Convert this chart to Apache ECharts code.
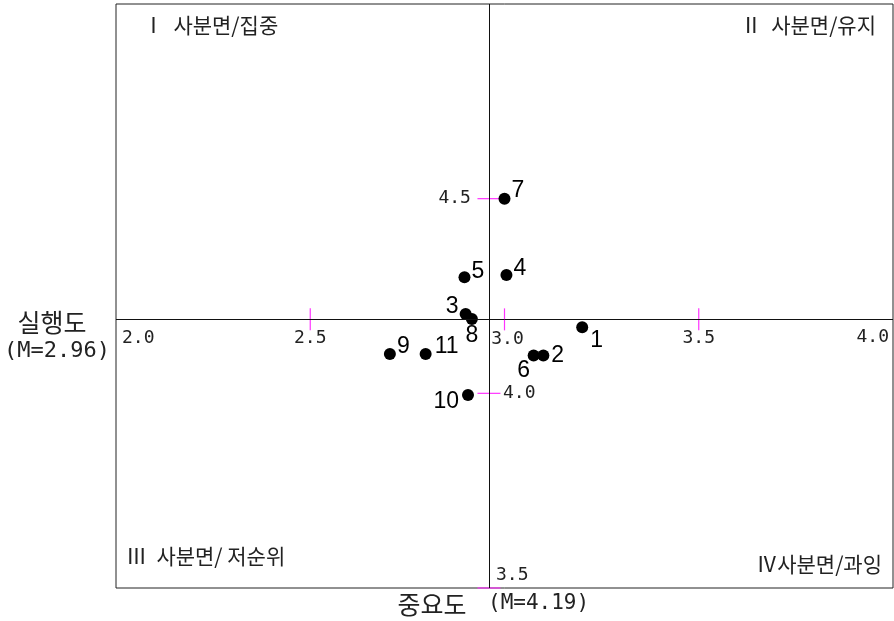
<!DOCTYPE html>
<html>
<head>
<meta charset="utf-8">
<script src="https://cdn.jsdelivr.net/npm/echarts@6/dist/echarts.min.js"></script>
<style>html,body{margin:0;padding:0;background:#fff;}#c{width:894px;height:621px;}</style>
</head>
<body>
<div id="c"></div>
<script>
// ---- data ----
const pointIds = ['1', '2', '3', '4', '5', '6', '7', '8', '9', '10', '11'];
const performance = [3.20, 3.10, 2.90, 3.005, 2.897, 3.075, 3.00, 2.916, 2.705, 2.906, 2.797];
const importance = [4.17, 4.097, 4.204, 4.304, 4.298, 4.097, 4.50, 4.191, 4.101, 3.996, 4.101];
const meanPerformance = 2.96;
const meanImportance = 4.19;
const xTicks = [2.0, 2.5, 3.0, 3.5, 4.0];
const yTicks = [3.5, 4.0, 4.5];
const xTickMarks = [2.5, 3.0, 3.5];
const yTickMarks = [3.5, 4.0, 4.5];
const quadrantNames = ['Ⅰ  사분면/집중', 'Ⅱ  사분면/유지', 'Ⅲ  사분면/ 저순위', 'Ⅳ사분면/과잉'];
const xTitle = ['실행도', '(M=2.96)'];
const yTitle = ['중요도', '(M=4.19)'];

// ---- styles ----
const labelPlacement = {
  '1': {position: 'right', distance: 2, offset: [0, 14]},
  '2': {position: 'right', distance: 2, offset: [0, 0]},
  '3': {position: 'left', distance: 1, offset: [0, -7]},
  '4': {position: 'right', distance: 1, offset: [0, -6]},
  '5': {position: 'right', distance: 1, offset: [0, -6]},
  '6': {position: 'bottom', distance: -2, offset: [-10, 0]},
  '7': {position: 'right', distance: 1, offset: [0, -8]},
  '8': {position: 'bottom', distance: -1, offset: [0, 0]},
  '9': {position: 'right', distance: 1, offset: [0, -7]},
  '10': {position: 'left', distance: 3, offset: [0, 7]},
  '11': {position: 'right', distance: 3, offset: [0, -7]}
};
const tickFont = {fontFamily: 'DejaVu Sans Mono', fontSize: 18, color: '#222'};
const MAGENTA = '#ff33ff';

const chart = echarts.init(document.getElementById('c'), null, {renderer: 'canvas'});

const pointData = pointIds.map((id, i) => ({
  name: id,
  value: [performance[i], importance[i]],
  label: labelPlacement[id]
}));

const xLabelData = xTicks.map((v, i) => {
  let align = 'center', offset = [0, 19];
  if (i === 0) { align = 'left'; offset = [6, 19]; }
  if (i === 2) { offset = [3, 20]; }
  if (i === xTicks.length - 1) { align = 'right'; offset = [-4, 18]; }
  return {value: [v, meanImportance], label: {align: align, offset: offset}};
});
const yLabelData = yTicks.map(v => {
  if (v === 4.5) return {value: [meanPerformance, v], label: {align: 'right', offset: [-18, 0]}};
  if (v === 4.0) return {value: [meanPerformance, v], label: {align: 'left', offset: [14, 0]}};
  return {value: [meanPerformance, v], label: {align: 'left', offset: [7, -13]}};
});

const cjk = 'Noto Sans CJK KR';
const mono = 'DejaVu Sans Mono';

chart.setOption({
  animation: false,
  backgroundColor: '#fff',
  grid: {left: 116, top: 4, width: 777, height: 584, show: true, borderColor: '#222', borderWidth: 1, backgroundColor: 'transparent'},
  xAxis: {type: 'value', min: 2, max: 4, axisLine: {show: false}, axisTick: {show: false}, axisLabel: {show: false}, splitLine: {show: false}},
  yAxis: {type: 'value', min: 3.5, max: 5, axisLine: {show: false}, axisTick: {show: false}, axisLabel: {show: false}, splitLine: {show: false}},
  series: [
    {
      type: 'scatter', name: 'meanLines', data: [], silent: true, clip: false,
      markLine: {
        silent: true, symbol: 'none', animation: false,
        label: {show: false},
        lineStyle: {color: '#111', width: 1, type: 'solid', opacity: 1},
        emphasis: {disabled: true},
        data: [{xAxis: meanPerformance}, {yAxis: meanImportance}]
      }
    },
    {
      type: 'scatter', name: 'xTickMarks', silent: true, clip: false,
      symbol: 'rect', symbolSize: [1.2, 22],
      itemStyle: {color: MAGENTA, opacity: 1},
      data: xTickMarks.map(v => [v, meanImportance])
    },
    {
      type: 'scatter', name: 'yTickMarks', silent: true, clip: false,
      symbol: 'rect', symbolSize: [23, 1.2],
      itemStyle: {color: MAGENTA, opacity: 1},
      data: yTickMarks.map(v => [meanPerformance, v])
    },
    {
      type: 'scatter', name: 'xTickLabels', silent: true, clip: false,
      symbolSize: 0, itemStyle: {opacity: 1},
      label: Object.assign({show: true, position: 'inside', verticalAlign: 'middle', formatter: p => p.value[0].toFixed(1)}, tickFont),
      data: xLabelData
    },
    {
      type: 'scatter', name: 'yTickLabels', silent: true, clip: false,
      symbolSize: 0, itemStyle: {opacity: 1},
      label: Object.assign({show: true, position: 'inside', verticalAlign: 'middle', formatter: p => p.value[1].toFixed(1)}, tickFont),
      data: yLabelData
    },
    {
      type: 'scatter', name: 'points', silent: true, clip: false,
      symbol: 'circle', symbolSize: 12,
      itemStyle: {color: '#000', opacity: 1},
      label: {show: true, formatter: '{b}', fontFamily: 'Liberation Sans', fontSize: 23, color: '#000'},
      data: pointData
    }
  ],
  graphic: [
    {type: 'text', x: 143, y: 25, style: {text: quadrantNames[0], font: '21px "' + cjk + '"', fill: '#222', align: 'left', verticalAlign: 'middle', textAlign: 'left', textVerticalAlign: 'middle'}},
    {type: 'text', x: 876, y: 25, style: {text: quadrantNames[1], font: '21px "' + cjk + '"', fill: '#222', align: 'right', verticalAlign: 'middle', textAlign: 'right', textVerticalAlign: 'middle'}},
    {type: 'text', x: 126, y: 556, style: {text: quadrantNames[2], font: '21px "' + cjk + '"', fill: '#222', align: 'left', verticalAlign: 'middle', textAlign: 'left', textVerticalAlign: 'middle'}},
    {type: 'text', x: 882, y: 564, style: {text: quadrantNames[3], font: '21px "' + cjk + '"', fill: '#222', align: 'right', verticalAlign: 'middle', textAlign: 'right', textVerticalAlign: 'middle'}},
    {type: 'text', x: 52, y: 322, style: {text: xTitle[0], font: '25px "' + cjk + '"', fill: '#222', align: 'center', verticalAlign: 'middle', textAlign: 'center', textVerticalAlign: 'middle'}},
    {type: 'text', x: 57, y: 351, style: {text: xTitle[1], font: '22px "' + mono + '"', fill: '#222', align: 'center', verticalAlign: 'middle', textAlign: 'center', textVerticalAlign: 'middle'}},
    {type: 'text', x: 432, y: 604, style: {text: yTitle[0], font: '25px "' + cjk + '"', fill: '#222', align: 'center', verticalAlign: 'middle', textAlign: 'center', textVerticalAlign: 'middle'}},
    {type: 'text', x: 488, y: 604, style: {text: yTitle[1], font: '21px "' + mono + '"', fill: '#222', align: 'left', verticalAlign: 'middle', textAlign: 'left', textVerticalAlign: 'middle'}}
  ]
});
</script>
</body>
</html>
